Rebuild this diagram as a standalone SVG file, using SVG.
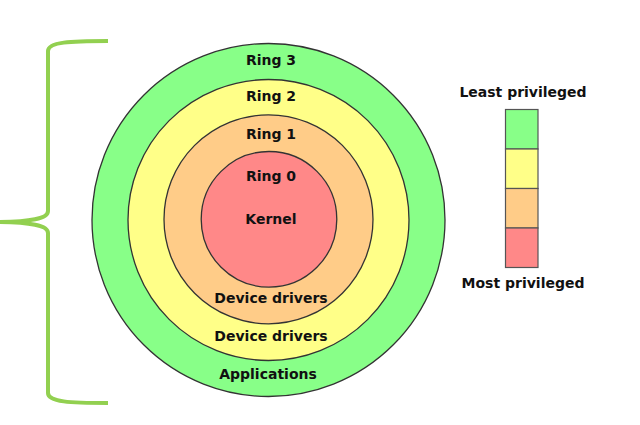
<svg xmlns="http://www.w3.org/2000/svg" width="640" height="425" viewBox="0 0 640 425">
<style>
.ring{stroke:#333;stroke-width:1.3}
.lbl{font-family:"DejaVu Sans","Liberation Sans",sans-serif;font-weight:bold;font-size:14px;fill:#111;text-anchor:middle}
.leg{stroke:#555;stroke-width:1.2}
.g{fill:#8f8}.y{fill:#ff8}.o{fill:#fc8}.r{fill:#f88}
</style>
<rect width="640" height="425" fill="#fff"/>
<g id="brace">
<path d="M108,41 C70,41 48,42 48,51 L48,211 C48,219 30,221.5 0,222 C30,222.5 48,225 48,233 L48,393 C48,402 70,403 108,403" fill="none" stroke="#92d050" stroke-width="4" stroke-linejoin="round"/>
</g>
<g id="ring3"><circle class="ring g" cx="268.5" cy="220" r="176.5"/><text class="lbl" x="271" y="64.5">Ring 3</text><text class="lbl" x="268" y="378.5">Applications</text></g>
<g id="ring2"><circle class="ring y" cx="268.5" cy="220" r="140.5"/><text class="lbl" x="271" y="100.5">Ring 2</text><text class="lbl" x="271" y="340.5">Device drivers</text></g>
<g id="ring1"><circle class="ring o" cx="268.5" cy="219.3" r="104.5"/><text class="lbl" x="271" y="138.5">Ring 1</text><text class="lbl" x="271" y="302.5">Device drivers</text></g>
<g id="ring0"><circle class="ring r" cx="269" cy="219.3" r="67.8"/><text class="lbl" x="271" y="181">Ring 0</text><text class="lbl" x="271" y="223.5">Kernel</text></g>
<g id="legend">
<text class="lbl" x="523" y="96.5">Least privileged</text>
<rect class="leg g" x="505.5" y="109.5" width="32.5" height="39.5"/>
<rect class="leg y" x="505.5" y="149" width="32.5" height="39.5"/>
<rect class="leg o" x="505.5" y="188.5" width="32.5" height="39.5"/>
<rect class="leg r" x="505.5" y="228" width="32.5" height="39.5"/>
<text class="lbl" x="523" y="288">Most privileged</text>
</g>
<g id="connectors"></g>
</svg>
